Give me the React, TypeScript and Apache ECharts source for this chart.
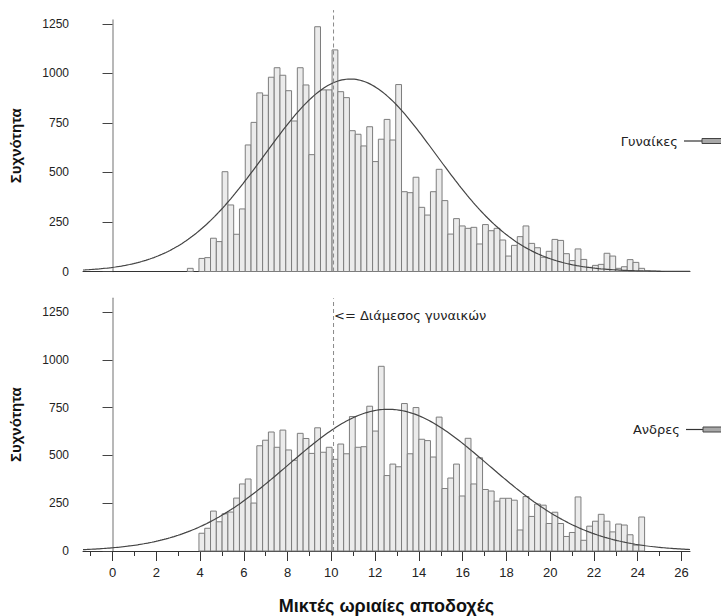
import React, { useEffect, useRef } from "react";
import * as echarts from "echarts";

// Histogram bins (shared by both panels)
const BIN_START = 3.42;
const BIN_WIDTH = 0.2645;

// Women (Γυναίκες) counts per bin, starting at BIN_START
const womenCounts = [
  16, 0, 66, 70, 168, 151, 504, 336, 188, 316,
  639, 753, 902, 890, 981, 1029, 991, 913, 760, 1029,
  942, 590, 1236, 917, 917, 1119, 908, 878, 711, 693,
  634, 731, 555, 668, 768, 664, 944, 403, 398, 476,
  324, 285, 403, 516, 358, 189, 267, 230, 218, 223,
  139, 237, 206, 218, 159, 78, 132, 176, 230, 142,
  120, 72, 102, 162, 157, 90, 55, 114, 61, 21,
  31, 36, 92, 78, 16, 24, 60, 46, 16, 4, 2,
];

// Men (Ανδρες) counts per bin, starting at BIN_START
const menCounts = [
  0, 0, 93, 119, 209, 153, 195, 204, 277, 351,
  377, 251, 551, 580, 623, 543, 633, 529, 475, 616,
  589, 511, 645, 517, 543, 480, 560, 509, 704, 543,
  546, 758, 628, 967, 395, 455, 441, 772, 509, 751,
  585, 578, 492, 701, 327, 382, 455, 288, 590, 351,
  488, 322, 314, 261, 276, 276, 266, 110, 285, 181,
  246, 240, 144, 203, 144, 76, 97, 283, 56, 130,
  156, 192, 156, 100, 141, 136, 85, 31, 178,
];

// Normal curve parameters
const womenNormal = { mean: 10.87, sd: 3.92, peak: 972 };
const menNormal = { mean: 12.6, sd: 4.58, peak: 742 };

const womenMedian = 10.1;

const X_MIN = -1.35;
const X_MAX = 26.39;
const evenTicks = [0, 2, 4, 6, 8, 10, 12, 14, 16, 18, 20, 22, 24, 26];
const oddTicks = [-1, 1, 3, 5, 7, 9, 11, 13, 15, 17, 19, 21, 23, 25];
const yTicks = [0, 250, 500, 750, 1000, 1250];

const PANEL_TOP = "Γυναίκες";
const PANEL_BOTTOM = "Ανδρες";
const MEDIAN_LABEL = "<= Διάμεσος γυναικών";
const X_TITLE = "Μικτές ωριαίες αποδοχές";
const Y_TITLE = "Συχνότητα";

function binData(counts: number[]) {
  return counts.map((c, i) => [BIN_START + i * BIN_WIDTH, BIN_START + (i + 1) * BIN_WIDTH, c]);
}

function curve(p: { mean: number; sd: number; peak: number }) {
  const pts: number[][] = [];
  const n = 300;
  for (let i = 0; i <= n; i++) {
    const x = X_MIN + ((X_MAX - X_MIN) * i) / n;
    const z = (x - p.mean) / p.sd;
    pts.push([x, p.peak * Math.exp(-0.5 * z * z)]);
  }
  return pts;
}

const SANS = "'Liberation Sans', Arial, sans-serif";
const LABEL_FONT = "'DejaVu Sans', Tahoma, sans-serif";

function barRender(params: any, api: any) {
  const v = api.value(2);
  if (!(v > 0)) return null;
  const p0 = api.coord([api.value(0), v]);
  const p1 = api.coord([api.value(1), 0]);
  return {
    type: "rect",
    shape: { x: p0[0], y: p0[1], width: p1[0] - p0[0], height: p1[1] - p0[1] },
    style: { fill: "#ebebeb", stroke: "#7d7d7d", lineWidth: 1 },
  };
}

function yAxisCfg(gridIndex: number, max: number) {
  return {
    type: "value",
    gridIndex,
    min: 0,
    max,
    name: Y_TITLE,
    nameLocation: "middle",
    nameRotate: 90,
    nameGap: 60,
    nameTextStyle: { fontFamily: SANS, fontSize: 15, fontWeight: "bold", color: "#111" },
    axisLine: { show: true, lineStyle: { color: "#a0a0a0", width: 1.5 } },
    axisTick: { show: true, length: 10, customValues: yTicks, lineStyle: { color: "#444" } },
    axisLabel: {
      customValues: yTicks,
      formatter: (v: number) => String(v),
      fontFamily: SANS,
      fontSize: 12,
      color: "#222",
      margin: 14,
    },
    splitLine: { show: false },
  };
}

export default function App() {
  const ref = useRef<HTMLDivElement>(null);
  useEffect(() => {
    if (!ref.current) return;
    const chart = echarts.init(ref.current, undefined, { renderer: "svg" });
    const option: any = {
      animation: false,
      backgroundColor: "#ffffff",
      grid: [
        { left: 77, top: 20, width: 613, height: 251.5 },
        { left: 77, top: 298.3, width: 613, height: 260 },
      ],
      xAxis: [
        {
          type: "value",
          gridIndex: 0,
          position: "bottom",
          min: X_MIN,
          max: X_MAX,
          axisLine: { show: true, lineStyle: { color: "#333", width: 1 } },
          axisTick: { show: false },
          axisLabel: { show: false },
          splitLine: { show: false },
        },
        {
          type: "value",
          gridIndex: 1,
          position: "bottom",
          min: X_MIN,
          max: X_MAX,
          name: X_TITLE,
          nameLocation: "middle",
          nameGap: 46,
          nameTextStyle: { fontFamily: SANS, fontSize: 18, fontWeight: "bold", color: "#111" },
          axisLine: { show: true, lineStyle: { color: "#333", width: 1 } },
          axisTick: { show: true, length: 10, customValues: evenTicks, lineStyle: { color: "#333" } },
          axisLabel: {
            customValues: evenTicks,
            formatter: (v: number) => String(v),
            fontFamily: SANS,
            fontSize: 13,
            color: "#222",
            margin: 15,
          },
          splitLine: { show: false },
        },
        {
          type: "value",
          gridIndex: 1,
          position: "bottom",
          min: X_MIN,
          max: X_MAX,
          axisLine: { show: false },
          axisTick: { show: true, length: 5, customValues: oddTicks, lineStyle: { color: "#333" } },
          axisLabel: { show: false },
          splitLine: { show: false },
        },
      ],
      yAxis: [yAxisCfg(0, 1270), yAxisCfg(1, 1323)],
      series: [
        {
          type: "custom",
          xAxisIndex: 0,
          yAxisIndex: 0,
          renderItem: barRender,
          encode: { x: [0, 1], y: 2 },
          data: binData(womenCounts),
          silent: true,
        },
        {
          type: "custom",
          xAxisIndex: 1,
          yAxisIndex: 1,
          renderItem: barRender,
          encode: { x: [0, 1], y: 2 },
          data: binData(menCounts),
          silent: true,
        },
        {
          type: "line",
          xAxisIndex: 0,
          yAxisIndex: 0,
          data: curve(womenNormal),
          showSymbol: false,
          lineStyle: { color: "#444", width: 1.2 },
        },
        {
          type: "line",
          xAxisIndex: 1,
          yAxisIndex: 1,
          data: curve(menNormal),
          showSymbol: false,
          lineStyle: { color: "#444", width: 1.2 },
        },
        {
          type: "line",
          xAxisIndex: 0,
          yAxisIndex: 0,
          clip: false,
          data: [[womenMedian, 0], [womenMedian, 1320]],
          showSymbol: false,
          lineStyle: { color: "#8a8a8a", width: 1, type: [4, 3] },
        },
        {
          type: "line",
          xAxisIndex: 1,
          yAxisIndex: 1,
          clip: false,
          data: [[womenMedian, 0], [womenMedian, 1323]],
          showSymbol: false,
          lineStyle: { color: "#8a8a8a", width: 1, type: [4, 3] },
        },
      ],
      graphic: [
        {
          type: "text",
          x: 334,
          y: 315,
          style: { text: MEDIAN_LABEL, fontFamily: LABEL_FONT, fontSize: 13, fill: "#222", verticalAlign: "middle", align: "left" },
        },
        {
          type: "text",
          x: 678,
          y: 141,
          style: { text: PANEL_TOP, fontFamily: LABEL_FONT, fontSize: 13, fill: "#222", verticalAlign: "middle", align: "right" },
        },
        { type: "line", shape: { x1: 684, y1: 141, x2: 702, y2: 141 }, style: { stroke: "#333", lineWidth: 1.2 } },
        { type: "rect", shape: { x: 702, y: 138.5, width: 20, height: 5 }, style: { fill: "#a8a8a8", stroke: "#444", lineWidth: 1 } },
        {
          type: "text",
          x: 680,
          y: 429.5,
          style: { text: PANEL_BOTTOM, fontFamily: LABEL_FONT, fontSize: 13, fill: "#222", verticalAlign: "middle", align: "right" },
        },
        { type: "line", shape: { x1: 686, y1: 429.5, x2: 703, y2: 429.5 }, style: { stroke: "#333", lineWidth: 1.2 } },
        { type: "rect", shape: { x: 703, y: 427, width: 20, height: 5 }, style: { fill: "#a8a8a8", stroke: "#444", lineWidth: 1 } },
      ],
    };
    chart.setOption(option);
    return () => chart.dispose();
  }, []);
  return (
    <div
      ref={ref}
      style={{ position: "fixed", left: 0, top: 0, width: 721, height: 616, background: "#fff" }}
    />
  );
}
